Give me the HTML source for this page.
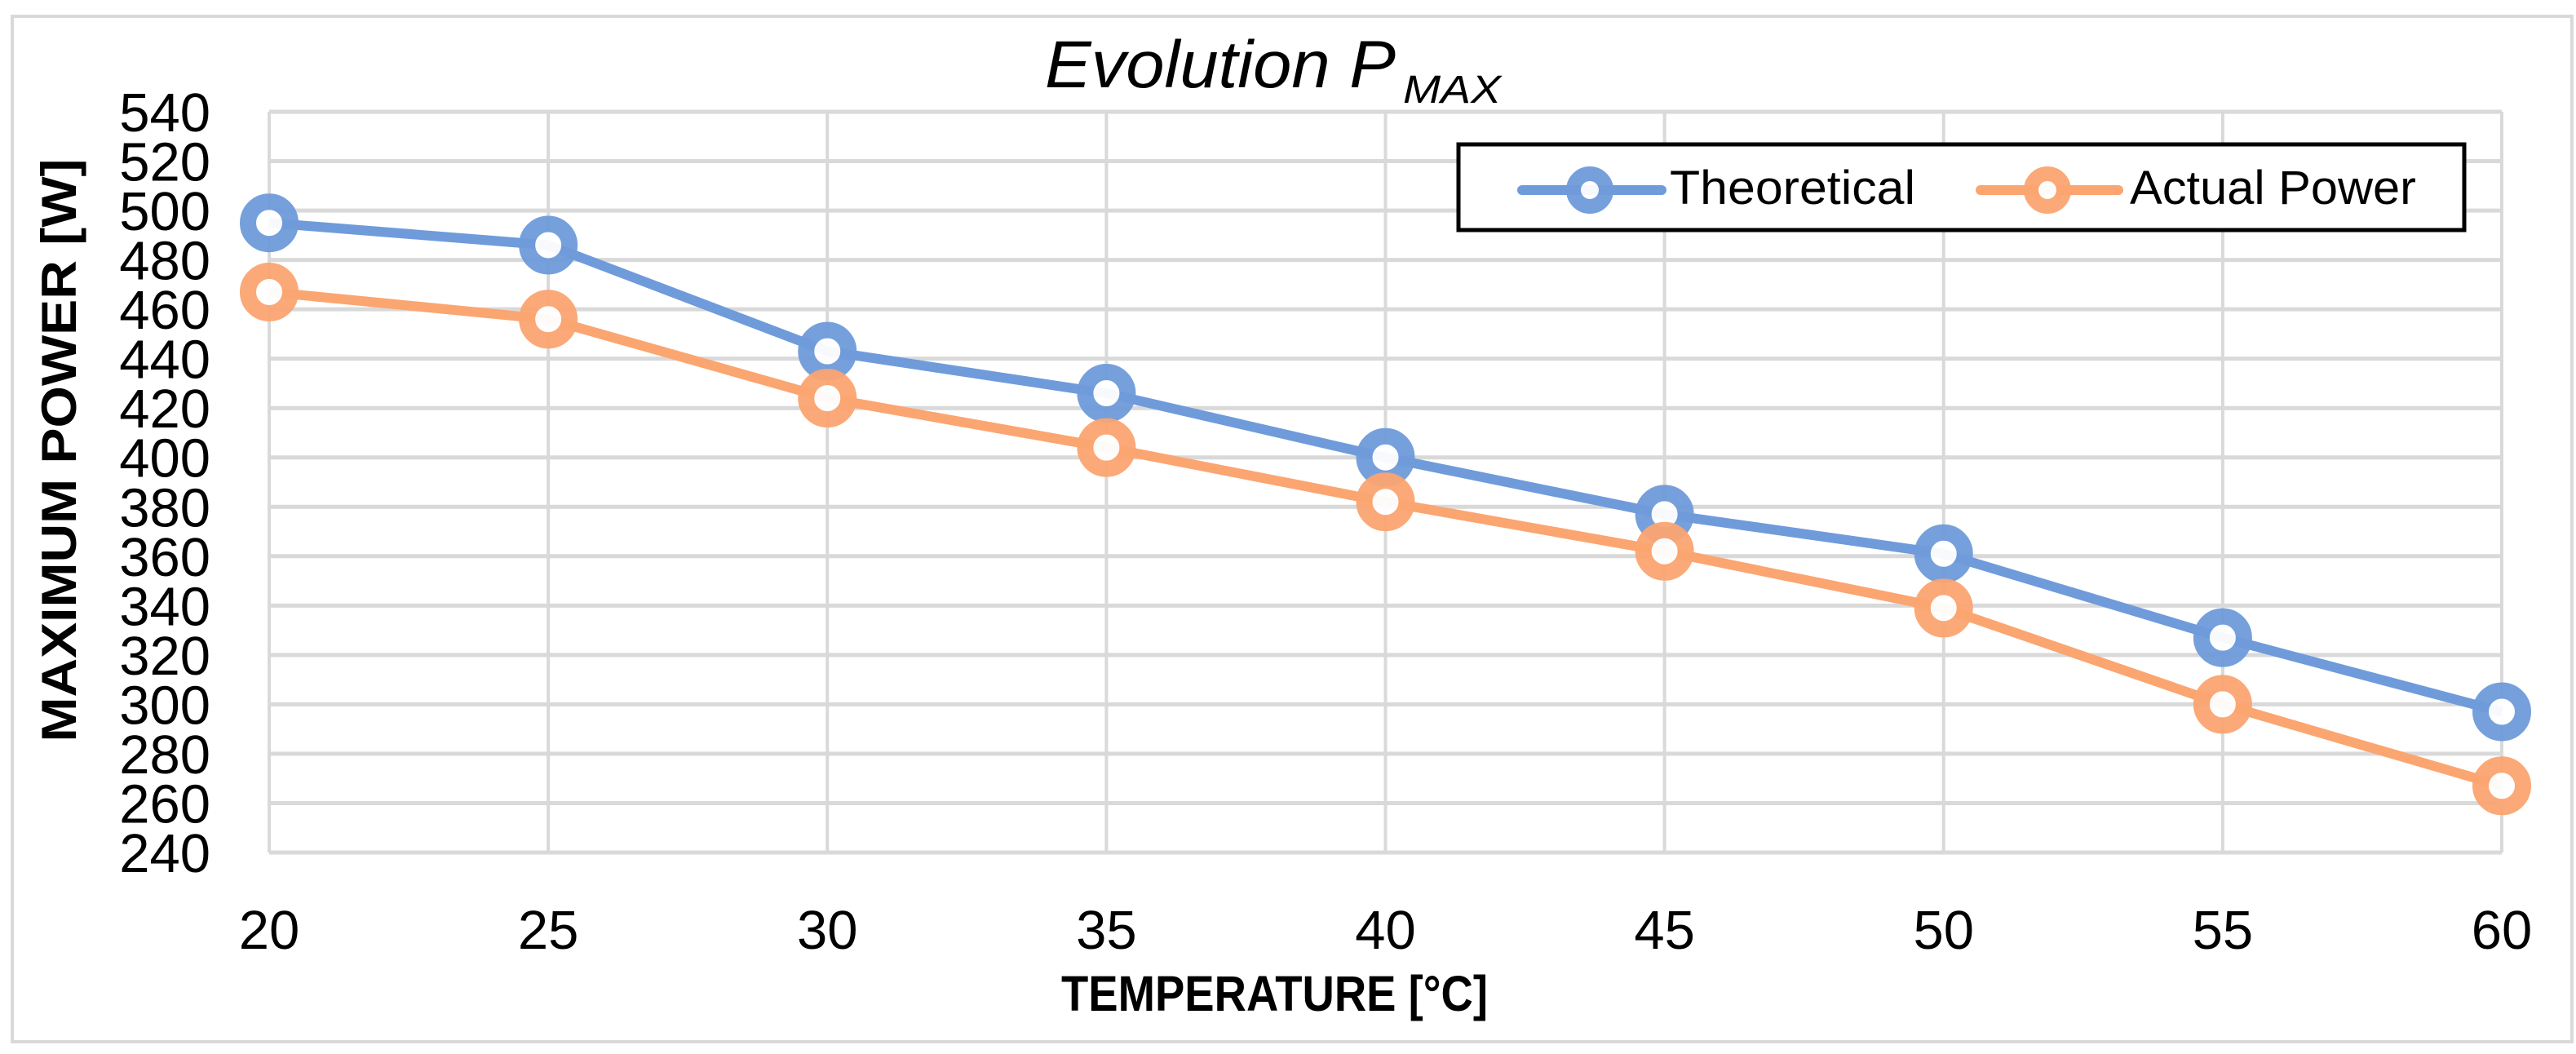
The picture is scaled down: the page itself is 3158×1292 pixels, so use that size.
<!DOCTYPE html>
<html><head><meta charset="utf-8"><style>
html,body{margin:0;padding:0;background:#fff}
svg{display:block}
text{font-family:"Liberation Sans",sans-serif;fill:#000}
</style></head><body>
<svg id="chart" width="3158" height="1292" viewBox="0 0 3158 1292" xmlns="http://www.w3.org/2000/svg">
<rect x="15" y="20" width="3138" height="1257" fill="#fff" stroke="#d9d9d9" stroke-width="4"/>
<g id="grid"></g>
<g id="yticks"></g>
<g id="xticks"></g>
<g id="series"></g>
<text x="1281" y="107" font-size="82" font-style="italic" textLength="430" lengthAdjust="spacingAndGlyphs">Evolution P</text><text x="1720" y="126" font-size="48" font-style="italic" textLength="120" lengthAdjust="spacingAndGlyphs">MAX</text>
<text transform="translate(93,552) rotate(-90)" text-anchor="middle" font-size="60" font-weight="bold" textLength="715" lengthAdjust="spacingAndGlyphs">MAXIMUM POWER [W]</text>
<text x="1301" y="1239" font-size="61" font-weight="bold" textLength="523" lengthAdjust="spacingAndGlyphs">TEMPERATURE [°C]</text>
<g>
<rect x="1788" y="177" width="1233" height="105" fill="#fff" stroke="#000" stroke-width="5"/>
<g>
<line x1="1866" y1="233" x2="2037" y2="233" stroke="#6f9bdb" stroke-width="12" stroke-linecap="round"/>
<circle cx="1949" cy="233" r="20" fill="#fff" stroke="#6f9bdb" stroke-width="18" opacity="0.95"/>
<text x="2047" y="250" font-size="58" textLength="301" lengthAdjust="spacingAndGlyphs">Theoretical</text>
</g>
<g>
<line x1="2428" y1="233" x2="2597" y2="233" stroke="#fba571" stroke-width="12" stroke-linecap="round"/>
<circle cx="2510" cy="233" r="20" fill="#fff" stroke="#fba571" stroke-width="18" opacity="0.95"/>
<text x="2611" y="250" font-size="58" textLength="351" lengthAdjust="spacingAndGlyphs">Actual Power</text>
</g>
</g>
</svg>
<script>
const categories = [20, 25, 30, 35, 40, 45, 50, 55, 60];
const theoretical = [495, 486, 443, 426, 400, 377, 361, 327, 297];
const actualPower = [467, 456, 424, 404, 382, 362, 339, 300, 267];
const yTicks = [240, 260, 280, 300, 320, 340, 360, 380, 400, 420, 440, 460, 480, 500, 520, 540];

const NS = 'http://www.w3.org/2000/svg';
const X0 = 330, X1 = 3067, Y0 = 1045, Y1 = 137;
const xMin = 20, xMax = 60, yMin = 240, yMax = 540;
function xs(v){ return X0 + (v - xMin) / (xMax - xMin) * (X1 - X0); }
function ys(v){ return Y0 - (v - yMin) / (yMax - yMin) * (Y0 - Y1); }
function mk(tag, attrs){ const e = document.createElementNS(NS, tag); for (const k in attrs) e.setAttribute(k, attrs[k]); return e; }

const grid = document.getElementById('grid');
const yt = document.getElementById('yticks');
const xt = document.getElementById('xticks');
yTicks.forEach(v => {
  const l = mk('line', {x1: X0, x2: X1, y1: ys(v), y2: ys(v), stroke: '#d9d9d9', 'stroke-width': 5});
  
  
  grid.appendChild(l);
  const t = mk('text', {x: 258, y: ys(v) + 24, 'text-anchor': 'end', 'font-size': 67});
  t.textContent = v;
  
  
  yt.appendChild(t);
});
categories.forEach(c => {
  const l = mk('line', {x1: xs(c), x2: xs(c), y1: Y1, y2: Y0, stroke: '#d9d9d9', 'stroke-width': 4});
  
  
  grid.appendChild(l);
  const t = mk('text', {x: xs(c), y: 1163, 'text-anchor': 'middle', 'font-size': 67});
  t.textContent = c;
  
  
  xt.appendChild(t);
});

const ser = document.getElementById('series');
function drawSeries(vals, color, name){
  const g = mk('g', {});
  
  
  const pts = vals.map((v, i) => xs(categories[i]) + ',' + ys(v)).join(' ');
  const pl = mk('polyline', {points: pts, fill: 'none', stroke: color, 'stroke-width': 12, 'stroke-linejoin': 'round'});
  
  
  g.appendChild(pl);
  vals.forEach((v, i) => {
    const c = mk('circle', {cx: xs(categories[i]), cy: ys(v), r: 26, fill: '#fff', stroke: color, 'stroke-width': 20, opacity: 0.95});
    
    
    g.appendChild(c);
  });
  ser.appendChild(g);
}
drawSeries(theoretical, '#6f9bdb', 'theoretical');
drawSeries(actualPower, '#fba571', 'actual-power');
</script>
</body></html>
